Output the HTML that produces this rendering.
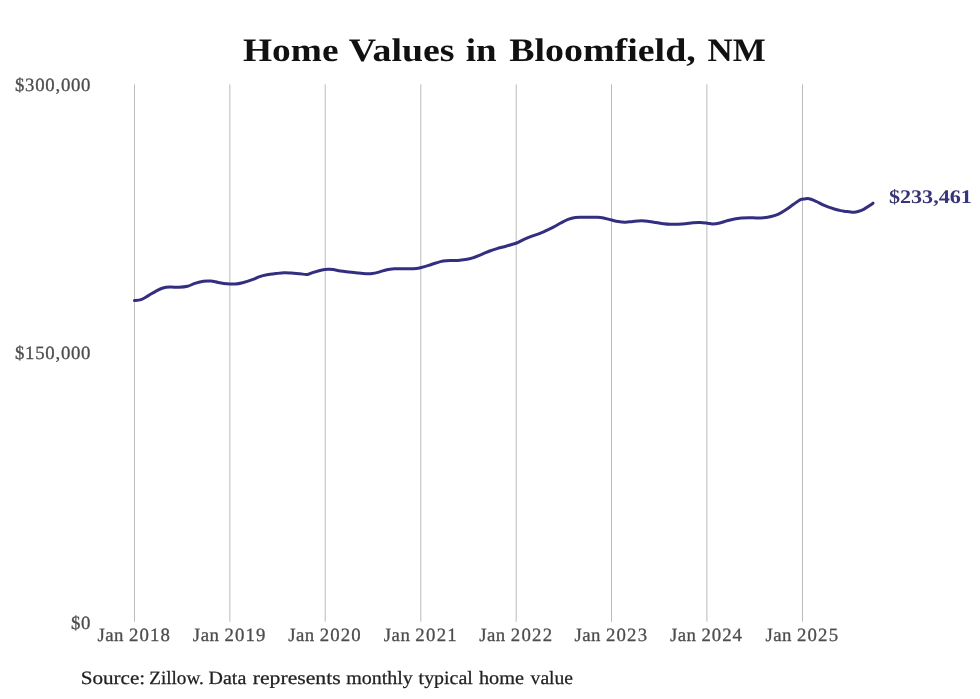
<!DOCTYPE html>
<html><head><meta charset="utf-8">
<style>
html,body{margin:0;padding:0;background:#fff;}
svg{display:block;will-change:transform;}
text{font-family:"Liberation Serif",serif;text-rendering:geometricPrecision;}
</style></head>
<body>
<svg width="980" height="699" viewBox="0 0 980 699">
<rect width="980" height="699" fill="#fff"/>
<g font-size="32.7" font-weight="bold" fill="#111">
<text x="243.06" y="60.70" textLength="95.51" lengthAdjust="spacingAndGlyphs">Home</text>
<text x="348.79" y="60.70" textLength="105.81" lengthAdjust="spacingAndGlyphs">Values</text>
<text x="465.69" y="60.70" textLength="30.77" lengthAdjust="spacingAndGlyphs">in</text>
<text x="509.17" y="60.70" textLength="186.58" lengthAdjust="spacingAndGlyphs">Bloomfield,</text>
<text x="707.54" y="60.70" textLength="58.17" lengthAdjust="spacingAndGlyphs">NM</text>
</g>
<g stroke="#bbbbbb" stroke-width="1" fill="none">
<line x1="134.50" y1="84.3" x2="134.50" y2="621.7"/>
<line x1="229.85" y1="84.3" x2="229.85" y2="621.7"/>
<line x1="325.20" y1="84.3" x2="325.20" y2="621.7"/>
<line x1="420.80" y1="84.3" x2="420.80" y2="621.7"/>
<line x1="516.20" y1="84.3" x2="516.20" y2="621.7"/>
<line x1="611.50" y1="84.3" x2="611.50" y2="621.7"/>
<line x1="706.90" y1="84.3" x2="706.90" y2="621.7"/>
<line x1="802.50" y1="84.3" x2="802.50" y2="621.7"/>
</g>
<g font-size="18.8" fill="#4d4d4d" stroke="#4d4d4d" stroke-width="0.3">
<text x="14.99" y="91.00" textLength="75.52" lengthAdjust="spacing">$300,000</text>
<text x="14.99" y="359.00" textLength="75.52" lengthAdjust="spacing">$150,000</text>
<text x="70.99" y="629.00" textLength="19.32" lengthAdjust="spacing">$0</text>
</g>
<g font-size="18.8" fill="#4d4d4d" stroke="#4d4d4d" stroke-width="0.3">
<text x="97.51" y="641.00" textLength="25.98" lengthAdjust="spacing">Jan</text>
<text x="129.07" y="641.00" textLength="40.94" lengthAdjust="spacing">2018</text>
<text x="192.86" y="641.00" textLength="25.98" lengthAdjust="spacing">Jan</text>
<text x="224.42" y="641.00" textLength="41.00" lengthAdjust="spacing">2019</text>
<text x="288.21" y="641.00" textLength="25.98" lengthAdjust="spacing">Jan</text>
<text x="319.77" y="641.00" textLength="40.94" lengthAdjust="spacing">2020</text>
<text x="383.81" y="641.00" textLength="25.98" lengthAdjust="spacing">Jan</text>
<text x="415.37" y="641.00" textLength="41.36" lengthAdjust="spacing">2021</text>
<text x="479.21" y="641.00" textLength="25.98" lengthAdjust="spacing">Jan</text>
<text x="510.77" y="641.00" textLength="41.26" lengthAdjust="spacing">2022</text>
<text x="574.51" y="641.00" textLength="25.98" lengthAdjust="spacing">Jan</text>
<text x="606.07" y="641.00" textLength="40.96" lengthAdjust="spacing">2023</text>
<text x="669.91" y="641.00" textLength="25.98" lengthAdjust="spacing">Jan</text>
<text x="701.47" y="641.00" textLength="40.52" lengthAdjust="spacing">2024</text>
<text x="765.51" y="641.00" textLength="25.98" lengthAdjust="spacing">Jan</text>
<text x="797.07" y="641.00" textLength="40.96" lengthAdjust="spacing">2025</text>
</g>
<path d="M134.50,300.60 C135.58,300.45 138.68,300.53 141.00,299.70 C143.32,298.87 145.95,297.00 148.40,295.60 C150.85,294.20 153.27,292.57 155.70,291.30 C158.13,290.03 160.55,288.70 163.00,288.00 C165.45,287.30 167.73,287.22 170.40,287.10 C173.07,286.98 176.15,287.43 179.00,287.30 C181.85,287.17 184.85,286.95 187.50,286.30 C190.15,285.65 192.23,284.25 194.90,283.40 C197.57,282.55 200.85,281.60 203.50,281.20 C206.15,280.80 208.35,280.80 210.80,281.00 C213.25,281.20 215.55,281.95 218.20,282.40 C220.85,282.85 223.85,283.43 226.70,283.70 C229.55,283.97 232.65,284.17 235.30,284.00 C237.95,283.83 239.77,283.42 242.60,282.70 C245.43,281.98 249.45,280.72 252.30,279.70 C255.15,278.68 257.25,277.42 259.70,276.60 C262.15,275.78 264.35,275.30 267.00,274.80 C269.65,274.30 272.73,273.95 275.60,273.60 C278.47,273.25 281.55,272.80 284.20,272.70 C286.85,272.60 288.85,272.82 291.50,273.00 C294.15,273.18 297.45,273.57 300.10,273.80 C302.75,274.03 305.15,274.65 307.40,274.40 C309.65,274.15 311.35,272.98 313.60,272.30 C315.85,271.62 318.45,270.80 320.90,270.30 C323.35,269.80 326.25,269.42 328.30,269.30 C330.35,269.18 331.17,269.30 333.20,269.60 C335.23,269.90 337.85,270.68 340.50,271.10 C343.15,271.52 346.25,271.78 349.10,272.10 C351.95,272.42 354.77,272.73 357.60,273.00 C360.43,273.27 363.67,273.60 366.10,273.70 C368.53,273.80 369.95,273.90 372.20,273.60 C374.45,273.30 377.15,272.55 379.60,271.90 C382.05,271.25 384.45,270.22 386.90,269.70 C389.35,269.18 391.85,268.97 394.30,268.80 C396.75,268.63 399.15,268.70 401.60,268.70 C404.05,268.70 406.55,268.83 409.00,268.80 C411.45,268.77 414.27,268.72 416.30,268.50 C418.33,268.28 419.15,268.02 421.20,267.50 C423.25,266.98 426.15,266.15 428.60,265.40 C431.05,264.65 433.45,263.72 435.90,263.00 C438.35,262.28 440.85,261.52 443.30,261.10 C445.75,260.68 448.15,260.60 450.60,260.50 C453.05,260.40 455.55,260.65 458.00,260.50 C460.45,260.35 462.85,260.03 465.30,259.60 C467.75,259.17 469.87,258.82 472.70,257.90 C475.53,256.98 479.47,255.25 482.30,254.10 C485.13,252.95 487.25,251.92 489.70,251.00 C492.15,250.08 494.55,249.32 497.00,248.60 C499.45,247.88 501.95,247.38 504.40,246.70 C506.85,246.02 509.67,245.12 511.70,244.50 C513.73,243.88 514.55,243.85 516.60,243.00 C518.65,242.15 521.55,240.52 524.00,239.40 C526.45,238.28 528.85,237.22 531.30,236.30 C533.75,235.38 536.25,234.83 538.70,233.90 C541.15,232.97 543.55,231.82 546.00,230.70 C548.45,229.58 550.95,228.48 553.40,227.20 C555.85,225.92 558.25,224.32 560.70,223.00 C563.15,221.68 565.65,220.23 568.10,219.30 C570.55,218.37 572.95,217.75 575.40,217.40 C577.85,217.05 580.35,217.23 582.80,217.20 C585.25,217.17 587.68,217.18 590.10,217.20 C592.52,217.22 595.07,217.17 597.30,217.30 C599.53,217.43 601.25,217.58 603.50,218.00 C605.75,218.42 608.35,219.20 610.80,219.80 C613.25,220.40 615.75,221.20 618.20,221.60 C620.65,222.00 623.05,222.23 625.50,222.20 C627.95,222.17 630.25,221.63 632.90,221.40 C635.55,221.17 638.75,220.80 641.40,220.80 C644.05,220.80 646.35,221.12 648.80,221.40 C651.25,221.68 653.65,222.12 656.10,222.50 C658.55,222.88 661.05,223.40 663.50,223.70 C665.95,224.00 668.35,224.20 670.80,224.30 C673.25,224.40 675.75,224.38 678.20,224.30 C680.65,224.22 683.05,224.05 685.50,223.80 C687.95,223.55 690.45,223.02 692.90,222.80 C695.35,222.58 697.77,222.43 700.20,222.50 C702.63,222.57 705.48,222.97 707.50,223.20 C709.52,223.43 710.27,223.93 712.30,223.90 C714.33,223.87 717.25,223.52 719.70,223.00 C722.15,222.48 724.55,221.47 727.00,220.80 C729.45,220.13 731.95,219.45 734.40,219.00 C736.85,218.55 739.25,218.32 741.70,218.10 C744.15,217.88 746.65,217.72 749.10,217.70 C751.55,217.68 753.95,218.00 756.40,218.00 C758.85,218.00 761.35,217.95 763.80,217.70 C766.25,217.45 768.65,217.10 771.10,216.50 C773.55,215.90 776.05,215.22 778.50,214.10 C780.95,212.98 783.35,211.38 785.80,209.80 C788.25,208.22 790.83,206.25 793.20,204.60 C795.57,202.95 798.05,200.85 800.00,199.90 C801.95,198.95 803.40,199.10 804.90,198.90 C806.40,198.70 807.50,198.47 809.00,198.70 C810.50,198.93 812.27,199.63 813.90,200.30 C815.53,200.97 817.17,201.88 818.80,202.70 C820.43,203.52 822.07,204.45 823.70,205.20 C825.33,205.95 826.83,206.57 828.60,207.20 C830.37,207.83 832.53,208.48 834.30,209.00 C836.07,209.52 837.57,209.92 839.20,210.30 C840.83,210.68 842.47,211.07 844.10,211.30 C845.73,211.53 847.37,211.55 849.00,211.70 C850.63,211.85 852.27,212.28 853.90,212.20 C855.53,212.12 857.17,211.68 858.80,211.20 C860.43,210.72 862.07,210.12 863.70,209.30 C865.33,208.48 867.05,207.32 868.60,206.30 C870.15,205.28 872.27,203.72 873.00,203.20" fill="none" stroke="#332e80" stroke-width="3.0" stroke-linecap="round" stroke-linejoin="round"/>
<g font-size="19.3" font-weight="bold" fill="#37337f">
<text x="888.91" y="202.70" textLength="83.04" lengthAdjust="spacingAndGlyphs">$233,461</text>
</g>
<g font-size="18.75" fill="#222" stroke="#222" stroke-width="0.25">
<text x="80.69" y="683.60" textLength="64.42" lengthAdjust="spacingAndGlyphs">Source:</text>
<text x="149.20" y="683.60" textLength="54.63" lengthAdjust="spacingAndGlyphs">Zillow.</text>
<text x="208.52" y="683.60" textLength="37.75" lengthAdjust="spacingAndGlyphs">Data</text>
<text x="252.77" y="683.60" textLength="87.92" lengthAdjust="spacingAndGlyphs">represents</text>
<text x="346.18" y="683.60" textLength="66.70" lengthAdjust="spacingAndGlyphs">monthly</text>
<text x="418.61" y="683.60" textLength="54.19" lengthAdjust="spacingAndGlyphs">typical</text>
<text x="479.00" y="683.60" textLength="45.00" lengthAdjust="spacingAndGlyphs">home</text>
<text x="530.60" y="683.60" textLength="42.48" lengthAdjust="spacingAndGlyphs">value</text>
</g>
</svg>
</body></html>
